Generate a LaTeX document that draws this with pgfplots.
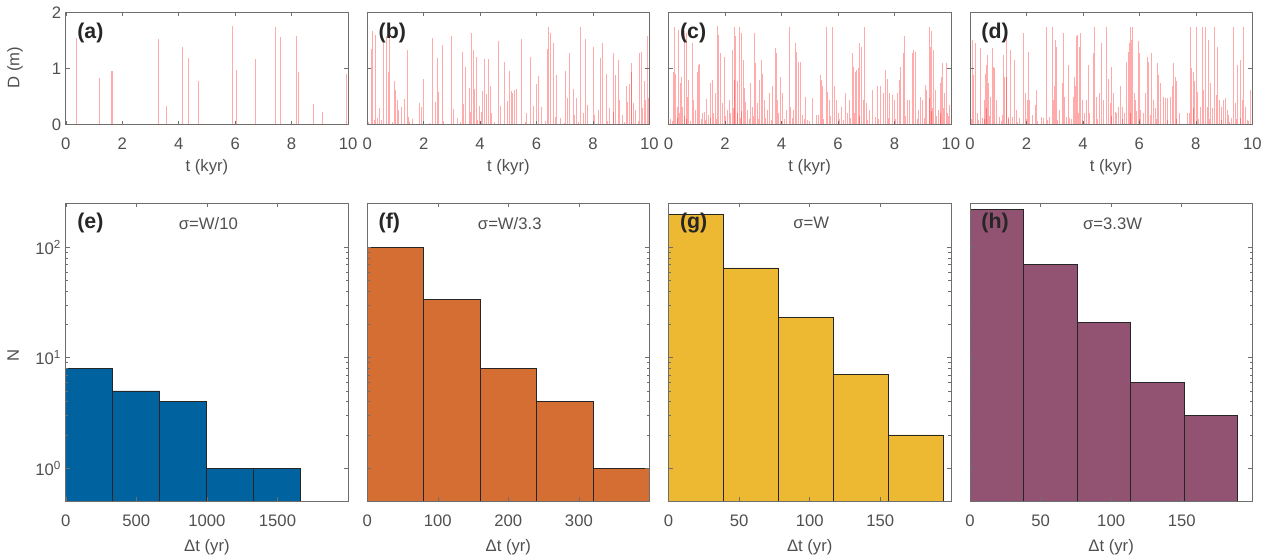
\documentclass[border=0pt]{standalone}
\usepackage{fontspec}
\setmainfont{Liberation Sans}
\usepackage{pgfplots}
\usepackage{pgfplotstable}
\pgfplotsset{compat=1.18}
\definecolor{cE}{RGB}{0,98,158}
\definecolor{cF}{RGB}{212,110,50}
\definecolor{cG}{RGB}{237,185,51}
\definecolor{cH}{RGB}{146,82,114}
\definecolor{axc}{RGB}{110,110,110}
\definecolor{txc}{RGB}{80,80,80}

\pgfplotstableread{
t D
0.39 1.54
1.19 0.83
1.63 0.96
1.64 0.96
3.29 1.52
3.56 0.34
4.12 1.39
4.35 1.19
4.69 0.77
5.91 1.75
6.03 0.97
6.71 1.17
7.44 1.74
7.62 1.56
8.16 1.57
8.26 0.93
8.78 0.37
9.10 0.23
9.94 0.90
}\dataA

\pgfplotstableread{
t D
0.02 0.62
0.14 1.34
0.19 1.67
0.26 0.08
0.31 1.60
0.44 0.29
0.52 0.08
0.58 1.51
0.70 1.57
0.76 0.94
0.80 1.69
0.95 0.77
1.02 0.61
1.07 0.44
1.12 0.26
1.20 0.32
1.33 0.45
1.41 1.32
1.47 0.14
1.62 0.10
1.86 0.38
1.91 0.32
2.01 0.82
2.33 1.54
2.42 0.41
2.48 1.18
2.54 0.58
2.66 1.41
2.98 1.58
3.04 0.28
3.19 0.11
3.37 1.29
3.40 0.36
3.49 1.03
3.61 0.66
3.67 0.23
3.71 1.63
3.75 1.33
3.81 0.63
3.87 1.21
3.97 0.34
4.06 0.23
4.10 0.60
4.17 1.16
4.23 0.54
4.28 1.17
4.36 0.68
4.42 0.20
4.66 1.48
4.73 0.33
4.86 1.12
4.98 0.43
5.05 0.96
5.10 0.60
5.15 0.56
5.21 0.62
5.30 0.63
5.48 1.52
5.63 0.20
5.78 1.20
5.89 0.33
6.00 0.72
6.06 0.87
6.18 0.32
6.37 1.35
6.44 1.74
6.50 1.63
6.60 1.45
6.67 0.14
6.70 0.88
6.84 0.11
7.02 0.95
7.11 0.47
7.17 1.27
7.32 0.63
7.35 0.17
7.42 0.47
7.57 1.74
7.65 0.20
7.72 1.53
7.79 0.35
8.00 1.39
8.05 0.17
8.18 0.26
8.28 1.18
8.34 1.45
8.47 0.90
8.59 0.29
8.72 1.27
8.74 0.22
8.80 0.88
8.90 1.15
8.95 0.44
9.03 0.17
9.17 0.69
9.23 0.41
9.29 0.72
9.35 1.09
9.38 0.94
9.43 0.38
9.49 0.26
9.64 1.27
9.70 1.30
9.76 0.29
9.83 0.77
9.87 0.44
9.92 1.58
9.98 0.47
0.05 0.05
0.35 0.12
0.90 0.05
1.50 0.04
2.20 0.03
2.70 0.06
3.30 0.05
3.90 0.08
4.50 0.04
5.60 0.05
6.30 0.06
7.00 0.03
7.50 0.05
8.50 0.06
9.10 0.04
9.60 0.07
}\dataB

\pgfplotstableread{
t D
0.01 0.82
0.08 0.02
0.18 0.94
0.21 1.74
0.26 0.91
0.31 0.32
0.36 1.69
0.42 0.74
0.45 0.85
0.50 0.32
0.57 1.66
0.62 1.63
0.68 0.50
0.71 0.80
0.83 1.45
0.89 0.44
0.95 0.26
1.02 0.94
1.07 1.06
1.10 1.08
1.19 0.20
1.27 0.23
1.34 0.45
1.43 0.17
1.50 0.74
1.54 0.80
1.60 0.20
1.66 0.56
1.72 1.76
1.78 1.60
1.85 1.28
1.90 0.38
1.98 1.20
2.08 0.26
2.16 0.44
2.26 1.32
2.32 0.80
2.35 1.74
2.38 1.57
2.43 0.77
2.52 1.74
2.57 1.63
2.64 1.15
2.68 0.65
2.73 0.41
2.80 0.26
2.89 0.74
2.97 0.32
3.05 1.63
3.09 1.09
3.15 0.38
3.23 0.80
3.29 1.15
3.33 0.91
3.38 0.44
3.50 0.26
3.57 0.56
3.68 0.68
3.78 1.36
3.82 1.27
3.87 0.44
3.98 0.85
4.05 0.56
4.16 0.26
4.28 1.74
4.33 0.32
4.44 0.26
4.49 1.45
4.54 1.30
4.61 1.12
4.69 1.12
4.75 0.17
4.85 0.50
4.93 0.08
5.08 0.47
5.23 0.17
5.31 0.17
5.37 0.88
5.42 0.80
5.46 0.68
5.58 1.74
5.63 0.59
5.70 0.44
5.82 1.74
5.89 0.68
5.94 0.44
6.01 0.20
6.12 0.32
6.27 0.56
6.32 0.20
6.41 0.44
6.51 1.27
6.56 1.03
6.62 0.94
6.65 0.97
6.71 1.00
6.77 1.45
6.82 1.39
6.89 0.44
6.95 1.74
7.01 0.38
7.13 0.26
7.24 0.62
7.33 0.14
7.39 0.68
7.51 0.68
7.60 0.56
7.70 0.97
7.74 0.82
7.84 0.56
7.93 0.53
8.02 0.44
8.10 0.56
8.17 0.80
8.23 1.03
8.31 1.27
8.37 1.58
8.46 0.44
8.55 0.44
8.63 1.27
8.69 1.33
8.73 1.30
8.85 0.26
8.94 0.50
9.00 0.44
9.10 0.71
9.14 0.62
9.23 0.47
9.26 1.74
9.29 1.39
9.33 1.66
9.38 1.33
9.44 0.62
9.56 0.26
9.62 0.74
9.68 0.85
9.71 1.09
9.76 0.56
9.83 1.09
9.88 0.20
9.95 0.35
0.05 0.10
0.14 0.06
0.30 0.12
0.40 0.20
0.55 0.15
0.65 0.10
0.77 0.06
1.15 0.10
1.30 0.08
1.47 0.12
1.70 0.10
2.00 0.15
2.20 0.20
2.30 0.30
2.45 0.20
2.55 0.12
2.60 0.25
2.85 0.10
3.00 0.15
3.20 0.10
3.45 0.12
3.65 0.08
3.90 0.20
4.10 0.10
4.40 0.12
4.80 0.10
5.00 0.06
5.50 0.10
5.75 0.15
6.05 0.10
6.20 0.08
6.45 0.12
6.60 0.20
6.75 0.15
7.05 0.08
7.45 0.10
7.80 0.12
8.05 0.10
8.40 0.15
8.80 0.10
9.05 0.12
9.30 0.25
9.35 0.30
9.50 0.15
9.65 0.20
9.75 0.30
9.90 0.15
}\dataC

\pgfplotstableread{
t D
0.09 1.51
0.12 0.88
0.21 1.45
0.27 0.20
0.36 1.36
0.45 0.11
0.52 0.44
0.55 0.91
0.59 1.06
0.63 1.24
0.66 0.74
0.72 0.50
0.78 1.36
0.83 1.03
0.88 1.00
0.93 0.44
1.04 0.14
1.14 0.17
1.19 1.24
1.23 0.85
1.28 1.69
1.30 0.85
1.38 0.14
1.44 1.33
1.52 0.14
1.59 1.15
1.64 0.26
1.76 0.11
1.91 1.63
1.97 0.56
2.03 0.44
2.06 1.30
2.11 0.44
2.23 0.17
2.33 0.35
2.36 0.62
2.53 0.14
2.61 0.11
2.70 1.74
2.76 0.08
2.82 0.14
2.91 1.74
2.94 0.44
2.98 0.68
3.02 1.51
3.06 1.39
3.18 0.26
3.26 0.74
3.30 1.64
3.36 0.50
3.42 0.14
3.48 1.06
3.53 0.11
3.65 0.50
3.71 0.85
3.75 0.68
3.77 1.57
3.81 1.60
3.87 1.39
3.93 1.64
3.99 0.44
4.07 0.20
4.13 0.44
4.20 1.06
4.25 0.20
4.37 1.27
4.41 1.74
4.48 0.50
4.58 0.56
4.67 1.45
4.72 0.44
4.82 1.74
4.90 0.82
4.96 0.38
5.02 1.03
5.08 0.56
5.14 0.23
5.20 0.20
5.26 0.32
5.33 0.69
5.41 0.32
5.49 0.20
5.55 1.12
5.61 1.30
5.65 1.45
5.69 1.74
5.73 1.51
5.77 1.74
5.81 0.56
5.88 0.44
5.97 1.48
6.00 1.27
6.05 0.26
6.14 0.20
6.20 0.56
6.29 1.21
6.33 1.12
6.38 0.17
6.44 1.27
6.50 0.44
6.57 0.29
6.63 1.09
6.68 0.88
6.76 0.74
6.86 0.50
6.92 0.47
6.98 0.47
7.09 0.50
7.19 0.68
7.22 1.10
7.27 0.85
7.33 0.77
7.43 0.20
7.69 0.20
7.77 0.20
7.81 1.74
7.86 1.00
7.92 0.94
7.97 0.77
8.02 1.74
8.07 0.59
8.16 0.32
8.22 1.74
8.28 0.62
8.34 1.74
8.40 0.32
8.46 1.51
8.52 0.74
8.58 0.29
8.66 1.74
8.72 0.53
8.78 1.39
8.85 0.44
8.91 0.32
8.99 0.44
9.06 0.47
9.11 0.26
9.17 0.17
9.25 0.11
9.35 1.74
9.41 0.38
9.48 1.06
9.58 1.15
9.64 0.44
9.70 1.74
9.75 0.32
9.82 0.08
9.94 0.62
0.05 0.10
0.30 0.08
0.50 0.10
0.60 0.30
0.70 0.15
1.10 0.06
1.35 0.10
1.70 0.05
2.00 0.10
2.40 0.06
3.10 0.08
3.60 0.10
3.85 0.20
4.00 0.08
4.50 0.10
5.00 0.15
5.40 0.10
5.70 0.20
5.90 0.25
6.02 0.10
6.60 0.10
7.00 0.08
7.30 0.10
7.90 0.30
8.10 0.10
8.50 0.10
8.90 0.08
9.20 0.05
9.45 0.10
9.60 0.12
9.85 0.06
}\dataD

\pgfplotsset{
  base/.style={
    scale only axis, width=211.7pt,
    axis line style={axc, line width=0.5pt},
    every tick/.style={axc, line width=0.4pt},
    tick align=inside, major tick length=3pt, minor tick length=1.8pt,
    tick label style={font=\fontsize{12.5}{14}\selectfont, text=txc},
    xticklabel style={yshift=-6.5pt},
    label style={font=\fontsize{12.5}{14}\selectfont, text=txc},
    /pgf/number format/assume math mode=true,
    /pgf/number format/1000 sep={},
    axis on top,
  },
  toprow/.style={
    base, height=84.3pt,
    xmin=0, xmax=10, ymin=0, ymax=2,
    xtick={0,2,...,10}, ytick={0,1,2}, yticklabels={},
    xlabel={t (kyr)},
    xlabel style={at={(axis description cs:0.5,-0.374)}, anchor=center},
  },
  botrow/.style={
    base, height=223.5pt,
    ymin=0.5, ymax=250, log origin=infty,
    ytick={1,10,100}, yticklabels={},
    xlabel={Δt (yr)},
    xlabel style={at={(axis description cs:0.5,-0.153)}, anchor=center},
  },
  spikes/.style={quiver={u=0, v=\thisrow{D}}, -, draw=red, draw opacity=0.33, line width=0.75pt, mark=none},
  hist/.style={ybar interval, draw=black!85, line width=0.5pt},
}
\tikzset{
  plabel/.style={anchor=west, font=\bfseries\fontsize{16}{18}\selectfont, text=black!85},
  slabel/.style={anchor=center, font=\fontsize{12.5}{14}\selectfont, text=txc},
}

\begin{document}
\begin{tikzpicture}
\useasboundingbox (0,0) rectangle (947.25pt,-415.5pt);

% ---------- top row ----------
\begin{axis}[toprow, at={(49.35pt,-93.5pt)}, anchor=south west,
  yticklabels={0,1,2}, ylabel={D (m)},
  ylabel style={at={(axis description cs:-0.18,0.506)}, anchor=center}]
  \addplot[spikes] table[x=t, y expr=0] {\dataA};
  \node[plabel] at (axis description cs:0.024,0.816) {(a)};
\end{axis}

\begin{axis}[toprow, at={(275.4pt,-93.5pt)}, anchor=south west]
  \addplot[spikes] table[x=t, y expr=0] {\dataB};
  \node[plabel] at (axis description cs:0.024,0.816) {(b)};
\end{axis}

\begin{axis}[toprow, at={(501.45pt,-93.5pt)}, anchor=south west]
  \addplot[spikes] table[x=t, y expr=0] {\dataC};
  \node[plabel] at (axis description cs:0.024,0.816) {(c)};
\end{axis}

\begin{axis}[toprow, at={(727.5pt,-93.5pt)}, anchor=south west]
  \addplot[spikes] table[x=t, y expr=0] {\dataD};
  \node[plabel] at (axis description cs:0.024,0.816) {(d)};
\end{axis}

% ---------- bottom row ----------
\begin{semilogyaxis}[botrow, at={(49.35pt,-376pt)}, anchor=south west,
  xmin=0, xmax=2000, xtick={0,500,1000,1500},
  yticklabels={10\textsuperscript{0},10\textsuperscript{1},10\textsuperscript{2}},
  ylabel={N},
  ylabel style={at={(axis description cs:-0.187,0.49)}, anchor=center}]
  \addplot[hist, fill=cE] coordinates {(0,8) (332,5) (664,4) (996,1) (1328,1) (1660,1)};
  \node[plabel] at (axis description cs:0.024,0.933) {(e)};
  \node[slabel] at (axis description cs:0.505,0.933) {σ=W/10};
\end{semilogyaxis}

\begin{semilogyaxis}[botrow, at={(275.4pt,-376pt)}, anchor=south west,
  xmin=0, xmax=400, xtick={0,100,200,300}]
  \addplot[hist, fill=cF] coordinates {(0,100) (80,34) (160,8) (240,4) (320,1) (400,1)};
  \node[plabel] at (axis description cs:0.024,0.933) {(f)};
  \node[slabel] at (axis description cs:0.505,0.933) {σ=W/3.3};
\end{semilogyaxis}

\begin{semilogyaxis}[botrow, at={(501.45pt,-376pt)}, anchor=south west,
  xmin=0, xmax=200, xtick={0,50,100,150}]
  \addplot[hist, fill=cG] coordinates {(0,200) (38.9,65) (77.8,23) (116.7,7) (155.6,2) (194.5,2)};
  \node[plabel] at (axis description cs:0.024,0.933) {(g)};
  \node[slabel] at (axis description cs:0.505,0.933) {σ=W};
\end{semilogyaxis}

\begin{semilogyaxis}[botrow, at={(727.5pt,-376pt)}, anchor=south west,
  xmin=0, xmax=200, xtick={0,50,100,150}]
  \addplot[hist, fill=cH] coordinates {(0,221) (37.9,70) (75.8,21) (113.7,6) (151.6,3) (189.5,3)};
  \node[plabel] at (axis description cs:0.024,0.933) {(h)};
  \node[slabel] at (axis description cs:0.505,0.933) {σ=3.3W};
\end{semilogyaxis}
\end{tikzpicture}
\end{document}
